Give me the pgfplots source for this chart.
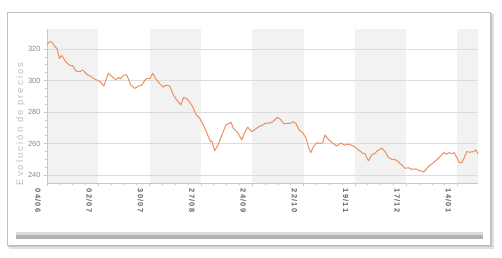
\documentclass[border=0pt]{standalone}
\usepackage{pgfplots}
\pgfplotsset{compat=1.18}
\usepackage{fontspec}
\setmainfont{Liberation Sans}
\newfontfamily\labfont[LetterSpace=22]{Liberation Sans}
\newfontfamily\xfont[LetterSpace=18]{Liberation Sans}
\definecolor{lineor}{HTML}{EE8E60}
\definecolor{band}{HTML}{F2F2F2}
\definecolor{gridc}{HTML}{DCDCDC}
\definecolor{axc}{HTML}{C8C8C8}
\definecolor{tickc}{HTML}{8A8A8A}
\definecolor{xtickc}{HTML}{606060}
\begin{document}
\begin{tikzpicture}
\fill[white] (0,0) rectangle (502bp,-258bp);
% frame with shadow
\fill[black!12] (9bp,-14bp) rectangle (494bp,-249bp);
\fill[black!22] (8bp,-13bp) rectangle (492bp,-247bp);
\filldraw[fill=white,draw=black!25,line width=0.6bp] (7bp,-12bp) rectangle (490bp,-245bp);
% scrollbar
\fill[black!14] (16bp,-231.5bp) rectangle (483bp,-235bp);
\fill[black!30] (16bp,-235bp) rectangle (483bp,-239bp);
% alternating background bands
\foreach \a/\b in {47/98.31, 149.62/200.93, 252.24/303.55, 354.86/406.17, 457.48/478}
  \fill[band] (\a bp,-29bp) rectangle (\b bp,-183bp);
\node[rotate=90,text=black!25,font=\fontsize{9.5}{11}\labfont] at (20.5bp,-124bp) {Evolución de precios};
\begin{axis}[
  at={(47bp,-183bp)}, anchor=south west,
  scale only axis, width=431bp, height=154bp,
  xmin=0, xmax=235.2, ymin=234.9, ymax=332.7,
  axis x line*=bottom, axis y line*=left,
  axis line style={draw=axc, line width=0.8bp},
  xtick={0,28,56,84,112,140,168,196,224},
  xticklabels={04/06,02/07,30/07,27/08,24/09,22/10,19/11,17/12,14/01},
  ytick={240,260,280,300,320},
  minor x tick num=3, minor y tick num=3,
  tick align=outside,
  major tick length=3bp, minor tick length=2bp,
  tick style={draw=axc, line width=0.6bp},
  ymajorgrids, major grid style={draw=gridc, line width=0.8bp},
  /pgf/number format/assume math mode=true,
  yticklabel style={font=\fontsize{7.5}{8}\selectfont, text=tickc},
  xticklabel style={rotate=-90, anchor=west, font=\xfont\bfseries\fontsize{7.5}{8}\selectfont, text=xtickc, xshift=-1bp, yshift=-9bp},
]
\addplot[color=lineor, line width=1bp, line join=round, no markers] coordinates {
(0,323) (1.2,324.5) (2.5,324.6) (3.5,323) (4.4,321.5) (5.6,320) (6.7,314) (8,316)
(9.8,312.6) (11,311) (12.6,309.4) (14,309.5) (15.8,306) (18,305.6) (19.5,306.7)
(21.7,304) (23.5,302.9) (26.2,300.8) (29,299.3) (31,296.5) (33.5,304.6) (35,303)
(37.7,300.3) (39,302) (40,301) (42,303.5) (43.5,303.5) (45.8,297) (48,295) (50,296.5)
(51.7,297) (53.5,300.3) (55,301.5) (56,301) (57.7,304.6) (59.5,300.8) (61.3,298.2)
(63.5,295.7) (64.8,297) (67,296.5) (69,290.8) (70.8,287.6) (73,284.5) (74.6,289.3)
(76.5,288.3) (79.2,284) (81.5,278) (83.2,276.3) (85.7,270.8) (88,264.5) (89.2,261.2)
(90,261.5) (91.5,255.4) (93.5,259.5) (95.4,265.4) (97.7,272) (99,272.5) (100.4,273.5)
(101.7,269.7) (103.9,267.2) (106.3,262.2) (107.7,266.5) (109.5,270.3) (111.7,267.5)
(114.4,269.7) (116.3,271.1) (117.7,271.7) (119,272.8) (121.4,273) (123.2,273.8)
(125.7,276.6) (127.2,275.5) (129.4,272.4) (130.8,272.8) (132.6,272.8) (134.5,273.8)
(136,272.5) (137.5,268.6) (139.5,266.9) (141.4,263.3) (142.6,258) (143.9,254.2)
(145.4,258) (147.2,260.5) (149,260) (150.5,260.5) (151.7,265.4) (153.5,262.7)
(156,260.1) (158.1,258.4) (160.3,260.3) (162.4,259) (164.6,259.6) (167.2,258.4)
(170,255.9) (172.3,253.8) (173.5,253.5) (175.4,249) (177.2,252.7) (179,253.8)
(180.3,255.4) (182.7,257) (184.5,254.8) (186.3,251.2) (188.1,250) (190,249.7)
(191.7,248.4) (193.6,246.4) (195.4,244.2) (197.2,244.6) (199,243.6) (201.4,243.8)
(203.2,242.7) (205.8,242.1) (208.1,245.3) (210.9,247.8) (213.6,250.6) (215.4,252.7)
(216.7,254.2) (218,253.2) (219.5,254.2) (220.8,253.5) (222.2,254.2) (223.6,251.2)
(225,247.8) (226.3,247.8) (227.6,250.6) (229,254.8) (230.9,254.5) (232.7,254.8)
(234,255.9) (235.2,253.3)
};
\end{axis}
\end{tikzpicture}
\end{document}
